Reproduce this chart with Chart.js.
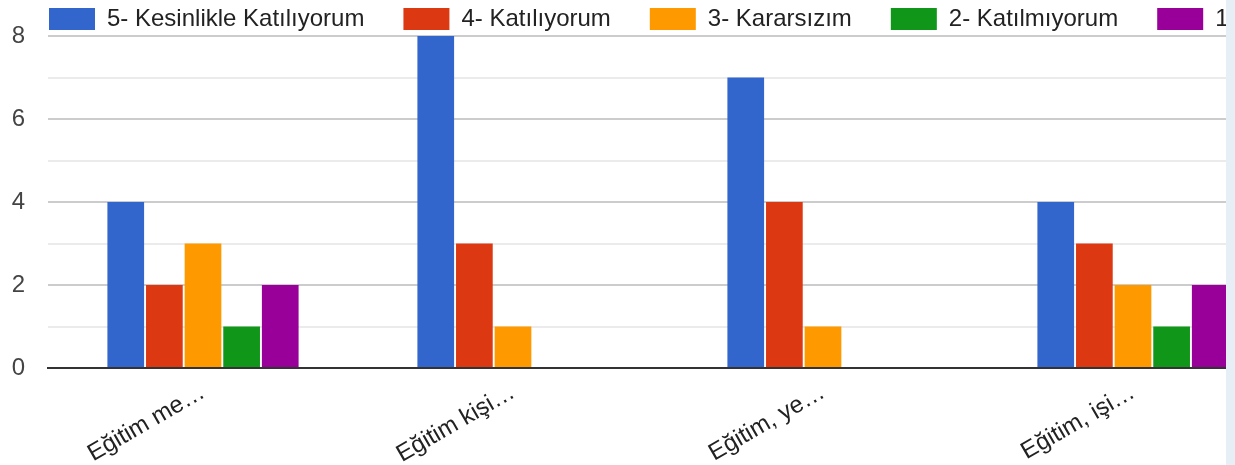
<!DOCTYPE html>
<html lang="tr">
<head>
  <meta charset="UTF-8">
  <title>Anket sonuçları</title>
  <script src="https://cdn.jsdelivr.net/npm/chart.js@4"></script>
  <style>
    html, body { margin: 0; padding: 0; background: #e8eef5; overflow: hidden; }
    #wrap { position: relative; width: 1226px; height: 465px; overflow: hidden; background: #fff; }
    #grafik { position: absolute; left: 0; top: -32px; }
  </style>
</head>
<body>
  <div id="wrap">
    <canvas id="grafik" width="1800" height="497"></canvas>
  </div>

  <script>
    // kategoriler (Google Forms kısaltılmış haliyle)
    const categories = ["Eğitim me…", "Eğitim kişi…", "Eğitim, ye…", "Eğitim, işi…"];
    const seriesNames = ["5- Kesinlikle Katılıyorum", "4- Katılıyorum", "3- Kararsızım", "2- Katılmıyorum", "1- Kesinlikle Katılmıyorum"];
    const seriesColors = ["#3366cc", "#dc3912", "#ff9900", "#109618", "#990099"];

    const kesinlikleKatiliyorum = [4, 8, 7, 4];
    const katiliyorum = [2, 3, 4, 3];
    const kararsizim = [3, 1, 1, 2];
    const katilmiyorum = [1, 0, 0, 1];
    const kesinlikleKatilmiyorum = [2, 0, 0, 2];

    const yMin = 0, yMax = 8, yStep = 1;
    const yLabelTicks = [0, 2, 4, 6, 8];

    const values = [kesinlikleKatiliyorum, katiliyorum, kararsizim, katilmiyorum, kesinlikleKatilmiyorum];

    Chart.defaults.font.family = 'Arial, "Liberation Sans", sans-serif';

    new Chart(document.getElementById("grafik"), {
      type: "bar",
      data: {
        labels: categories,
        datasets: seriesNames.map((name, i) => ({
          label: name,
          data: values[i],
          backgroundColor: seriesColors[i],
          borderWidth: 0,
          categoryPercentage: 0.623,
          barPercentage: 0.95
        }))
      },
      options: {
        responsive: false,
        animation: false,
        devicePixelRatio: 1,
        layout: { padding: { left: 10, right: 0, top: 0, bottom: 0 } },
        plugins: {
          tooltip: { enabled: false },
          legend: {
            position: "top",
            align: "start",
            maxHeight: 68,
            labels: {
              boxWidth: 46,
              boxHeight: 22,
              padding: 39,
              color: "#222",
              font: { size: 24 }
            }
          }
        },
        scales: {
          x: {
            grid: { display: false, drawTicks: false },
            border: { display: true, color: "#333", width: 2 },
            ticks: {
              color: "#222",
              font: { size: 24 },
              minRotation: 30,
              maxRotation: 30,
              autoSkip: false,
              padding: 10
            },
            afterFit: s => { s.height = 97; }
          },
          y: {
            min: yMin,
            max: yMax,
            border: { display: false },
            grid: {
              drawTicks: false,
              lineWidth: 2,
              color: c => c.tick.value === 0 ? "#333" : (yLabelTicks.includes(c.tick.value) ? "#cccccc" : "#ebebeb")
            },
            ticks: {
              stepSize: yStep,
              color: "#444",
              font: { size: 24 },
              padding: 23,
              callback: v => yLabelTicks.includes(v) ? v : ""
            },
            afterFit: s => { s.width = 38; }
          },
          bosluk: {
            type: "linear",
            position: "right",
            display: true,
            grid: { display: false, drawTicks: false },
            border: { display: false },
            ticks: { display: false },
            afterFit: s => { s.width = 512; }
          }
        }
      }
    });
  </script>
</body>
</html>
